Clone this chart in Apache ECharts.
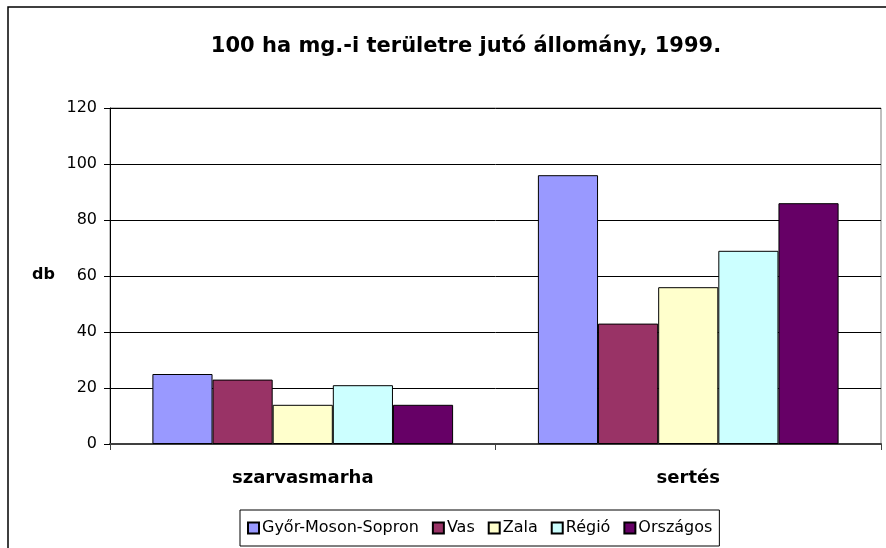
<!DOCTYPE html>
<html>
<head>
<meta charset="utf-8">
<script src="https://cdn.jsdelivr.net/npm/echarts@6/dist/echarts.min.js"></script>
<style>
  html, body { margin: 0; padding: 0; background: #fff; }
  #chart { width: 886px; height: 548px; }
</style>
</head>
<body>
<div id="chart"></div>
<script>
// adatok
var categories = ['szarvasmarha', 'sertés'];
var seriesNames = ['Győr-Moson-Sopron', 'Vas', 'Zala', 'Régió', 'Országos'];
var gyor = [25, 96];
var vas = [23, 43];
var zala = [14, 56];
var regio = [21, 69];
var orszagos = [14, 86];
var yTicks = [0, 20, 40, 60, 80, 100, 120];

var colors = ['#9999FF', '#993366', '#FFFFCC', '#CCFFFF', '#660066'];
var values = [gyor, vas, zala, regio, orszagos];
var font = 'DejaVu Sans, Arial, sans-serif';

var chart = echarts.init(document.getElementById('chart'));

var option = {
    backgroundColor: '#fff',
    animation: false,
    textStyle: { fontFamily: font },
    graphic: [
        {
            type: 'rect',
            shape: { x: 8, y: 7, width: 900, height: 600 },
            style: { fill: 'none', stroke: '#000', lineWidth: 1.5 },
            z: -1
        },
        {
            type: 'text',
            left: 32,
            top: 267,
            style: { text: 'db', font: 'bold 16px ' + font, fill: '#000' }
        }
    ],
    title: {
        text: '100 ha mg.-i területre jutó állomány, 1999.',
        left: 461,
        textAlign: 'center',
        top: 31,
        textStyle: { fontFamily: font, fontSize: 21, fontWeight: 'bold', color: '#000' }
    },
    legend: {
        data: seriesNames,
        left: 240,
        top: 510,
        padding: [10, 7, 10, 7],
        itemGap: 13,
        itemWidth: 11,
        itemHeight: 11,
        icon: 'rect',
        borderColor: '#000',
        borderWidth: 1,
        textStyle: { fontFamily: font, fontSize: 16, color: '#000', padding: [0, 0, 0, -2] }
    },
    grid: {
        left: 110,
        right: 5,
        top: 108,
        bottom: 104,
        show: true,
        borderColor: '#808080',
        borderWidth: 1
    },
    xAxis: {
        type: 'category',
        data: categories,
        axisLine: { lineStyle: { color: '#404040', width: 2 } },
        axisTick: { show: true, inside: false, length: 6, lineStyle: { color: '#404040' } },
        axisLabel: {
            margin: 25,
            fontFamily: font,
            fontSize: 18,
            fontWeight: 'bold',
            color: '#000'
        }
    },
    yAxis: {
        type: 'value',
        min: yTicks[0],
        max: yTicks[yTicks.length - 1],
        interval: 20,
        axisLine: { show: true, lineStyle: { color: '#000', width: 1 } },
        axisTick: { show: true, length: 6, lineStyle: { color: '#000' } },
        axisLabel: { margin: 13, fontFamily: font, fontSize: 16, color: '#000' },
        splitLine: { lineStyle: { color: '#000', width: 1 } }
    },
    series: seriesNames.map(function (name, i) {
        return {
            name: name,
            type: 'bar',
            data: values[i],
            barGap: '0%',
            barCategoryGap: '22%',
            itemStyle: { color: colors[i], borderColor: '#000', borderWidth: 1 }
        };
    })
};

chart.setOption(option);
</script>
</body>
</html>
